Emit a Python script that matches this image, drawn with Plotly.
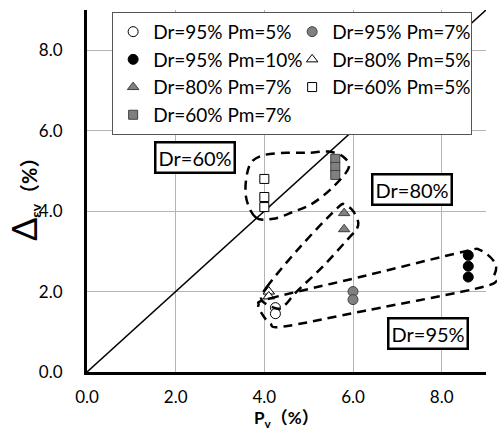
import plotly.graph_objects as go

# ---- data ----
names = ["Dr=95% Pm=5%", "Dr=95% Pm=7%", "Dr=95% Pm=10%", "Dr=80% Pm=5%",
         "Dr=80% Pm=7%", "Dr=60% Pm=5%", "Dr=60% Pm=7%"]
px_vals = [
    [4.25, 4.25],
    [6.0, 6.0],
    [8.6, 8.6, 8.6],
    [4.1, 4.1],
    [5.8, 5.8],
    [4.0, 4.0, 4.0],
    [5.6, 5.6, 5.6],
]
dev_vals = [
    [1.6, 1.45],
    [2.0, 1.8],
    [2.9, 2.63, 2.36],
    [2.0, 1.88],
    [3.95, 3.55],
    [4.8, 4.35, 4.1],
    [5.3, 5.1, 4.9],
]
symbols = ["circle", "circle", "circle", "triangle-up", "triangle-up", "square", "square"]
fills = ["white", "#808080", "black", "white", "#808080", "white", "#808080"]
sizes = [10, 10, 10, 10, 10, 9, 9]

ref_line_x = [0, 9]
ref_line_y = [0, 9]

# group outlines (decorative dashed loops), in data units
loop60 = [(3.80, 3.85), (3.58, 4.40), (3.66, 5.12), (3.95, 5.38), (4.5, 5.45), (5.0, 5.45),
          (5.45, 5.48), (5.78, 5.35), (5.90, 5.07), (5.55, 4.60), (5.10, 4.20), (4.65, 3.98),
          (4.20, 3.81)]
loop80 = [(4.06, 2.12), (4.8, 3.1), (5.64, 4.07), (5.82, 4.15), (6.01, 3.99), (6.12, 3.70),
          (6.05, 3.49), (5.94, 3.37), (5.3, 2.6), (4.73, 2.0), (4.47, 1.67), (4.28, 1.58),
          (3.94, 1.79)]
loop95 = [(4.13, 1.83), (6.3, 2.4), (8.49, 2.99), (8.87, 3.03), (9.21, 2.70), (9.17, 2.37),
          (8.95, 2.12), (6.3, 1.53), (4.43, 1.13), (4.13, 1.21), (3.94, 1.46), (3.87, 1.67)]

labels = ["Dr=60%", "Dr=80%", "Dr=95%"]
label_pos = [(2.43, 5.33), (7.33, 4.53), (7.7, 0.95)]

XR = (0, 9)
YR = (0, 9)
FONT = "Lato, 'Noto Sans CJK SC', sans-serif"

fig = go.Figure()
fig.add_trace(go.Scatter(x=ref_line_x, y=ref_line_y, mode="lines",
                         line=dict(color="black", width=1.5), showlegend=False,
                         hoverinfo="skip"))
for n, xs, ys, s, f, sz in zip(names, px_vals, dev_vals, symbols, fills, sizes):
    fig.add_trace(go.Scatter(x=xs, y=ys, mode="markers", name=n,
                             marker=dict(symbol=s, color=f, size=sz,
                                         line=dict(color="black" if f != "#808080" else "#404040", width=1))))


def to_dom(p):
    return ((p[0] - XR[0]) / (XR[1] - XR[0]), (p[1] - YR[0]) / (YR[1] - YR[0]))


def closed_path(pts):
    d = [to_dom(p) for p in pts]
    n = len(d)
    s = "M %.5f,%.5f" % d[0]
    for i in range(n):
        p0 = d[(i - 1) % n]; p1 = d[i]; p2 = d[(i + 1) % n]; p3 = d[(i + 2) % n]
        c1 = (p1[0] + (p2[0] - p0[0]) / 6, p1[1] + (p2[1] - p0[1]) / 6)
        c2 = (p2[0] - (p3[0] - p1[0]) / 6, p2[1] - (p3[1] - p1[1]) / 6)
        s += " C %.5f,%.5f %.5f,%.5f %.5f,%.5f" % (c1 + c2 + p2)
    return s + " Z"


for lp in (loop60, loop80, loop95):
    fig.add_shape(type="path", path=closed_path(lp), xref="x domain", yref="y domain",
                  line=dict(color="black", width=2.5, dash="9px,6px"), layer="above")

for t, (lx, ly) in zip(labels, label_pos):
    fig.add_annotation(x=lx, y=ly, xref="x", yref="y", text=t, showarrow=False,
                       font=dict(family=FONT, size=20, color="black"),
                       bgcolor="white", bordercolor="black", borderwidth=2.5, borderpad=2)

# axis titles
fig.add_annotation(x=-0.16, y=0.49, xref="paper", yref="paper", textangle=-90,
                   xanchor="center", yanchor="middle",
                   text="<span style='font-size:34px'>Δ</span><b><sub>εv</sub>（%）</b>",
                   showarrow=False, font=dict(family=FONT, size=20, color="black"))
fig.add_annotation(x=0.5, y=-0.129, xref="paper", yref="paper", yanchor="middle",
                   xanchor="center",
                   text="<b>P<sub>v</sub>（%）</b>",
                   showarrow=False, font=dict(family=FONT, size=17, color="black"))

axis_common = dict(showgrid=True, gridcolor="#b4b4b4", gridwidth=1, zeroline=False,
                   showline=True, linecolor="black", linewidth=3, ticks="",
                   tickformat=".1f", dtick=2, tick0=0,
                   tickfont=dict(family=FONT, size=17, color="black"))
fig.update_xaxes(range=list(XR), ticklabelstandoff=8, **axis_common)
fig.update_yaxes(range=list(YR), ticklabelstandoff=18, **axis_common)

fig.update_layout(
    width=503, height=430,
    margin=dict(l=87, r=17, t=10, b=58),
    paper_bgcolor="white", plot_bgcolor="white",
    font=dict(family=FONT, color="black"),
    showlegend=True,
    legend=dict(orientation="h", x=0.063, y=0.995, xanchor="left", yanchor="top",
                entrywidth=134, itemwidth=30,
                bgcolor="white", bordercolor="#555555", borderwidth=1,
                font=dict(family=FONT, size=19, color="black"),
                tracegroupgap=0),
)

fig.write_html("out.html")
